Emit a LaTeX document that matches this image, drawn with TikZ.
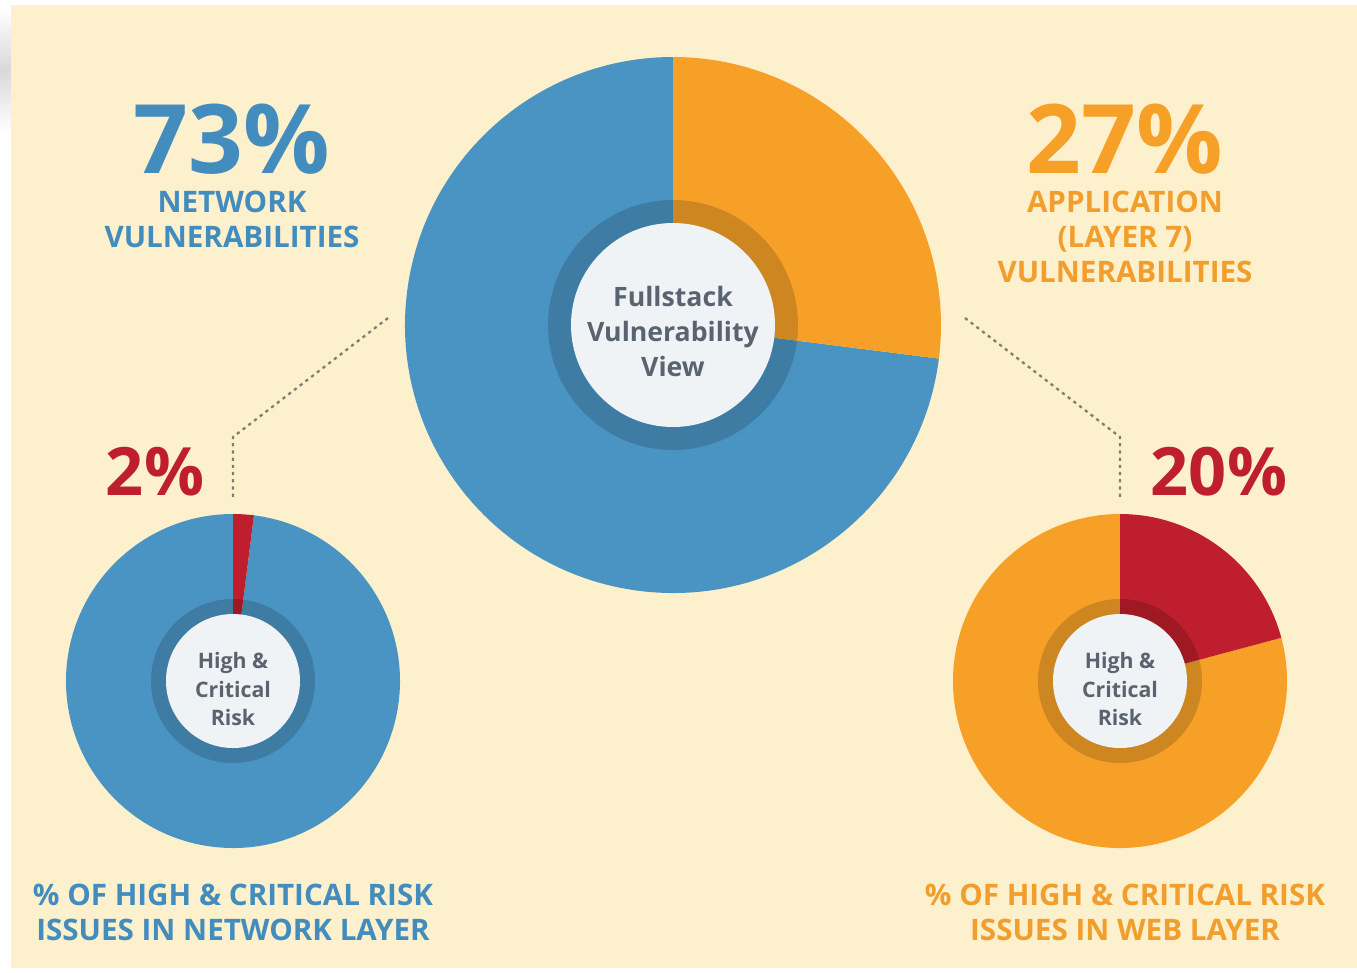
\documentclass[tikz,border=0pt]{standalone}
\usepackage{fontspec}
\setmainfont{Open Sans}

\definecolor{pageyellow}{RGB}{253,240,204}
\definecolor{pieblue}{RGB}{74,148,196}
\definecolor{pieorange}{RGB}{246,160,40}
\definecolor{piered}{RGB}{190,30,45}
\definecolor{hubwhite}{RGB}{240,243,246}
\definecolor{hubtext}{RGB}{90,100,112}
\definecolor{labelblue}{RGB}{66,140,190}
\definecolor{labelorange}{RGB}{242,158,45}
\definecolor{leadergray}{RGB}{130,125,110}

\tikzset{every picture/.style={line width=0.8pt}}

\begin{document}
\begin{tikzpicture}[x=0.75pt,y=0.75pt,yscale=-1, xscale=1,
  ringshade/.style={fill=black, fill opacity=0.16},
  hubtxt/.style={inner sep=0pt, text=hubtext, align=center},
  leader/.style={draw=leadergray, line width=1.7pt, dash pattern=on 2.4pt off 3pt},
  bignum/.style={anchor=north, inner sep=0pt, text depth=0pt, font=\bfseries\fontsize{72}{80}\selectfont},
  midnum/.style={anchor=north, inner sep=0pt, text depth=0pt, text=piered, font=\bfseries\fontsize{50}{56}\selectfont},
  caption/.style={anchor=north, inner sep=0pt, align=center, font=\bfseries\fontsize{22.2}{26.6}\selectfont}]
\useasboundingbox (0,0) rectangle (1357,972);

%Shape: page
\fill[white] (0,0) rectangle (1357,972);
\shade[top color=white, bottom color=white, middle color=gray!30] (0,8) rectangle (11,132);
\fill[pageyellow] (11,5) rectangle (1357,968);

\coordinate (big) at (673,325);
\coordinate (netpie) at (233,681);
\coordinate (webpie) at (1120,681);

%Shape: big pie 73 / 27
\fill[pieblue] (big) -- ++(7.2:268) arc[start angle=7.2, end angle=270, radius=268] -- cycle;
\fill[pieorange] (big) -- ++(-90:268) arc[start angle=-90, end angle=7.2, radius=268] -- cycle;
\fill[ringshade] (big) circle[radius=125];
\fill[hubwhite] (big) circle[radius=102];

%Shape: network pie 2 / 98
\fill[pieblue] (netpie) -- ++(-82.8:167) arc[start angle=-82.8, end angle=270, radius=167] -- cycle;
\fill[piered] (netpie) -- ++(-90:167) arc[start angle=-90, end angle=-82.8, radius=167] -- cycle;
\fill[ringshade] (netpie) circle[radius=82];
\fill[hubwhite] (netpie) circle[radius=67];

%Shape: web pie 20 / 80
\fill[pieorange] (webpie) -- ++(-15:167) arc[start angle=-15, end angle=270, radius=167] -- cycle;
\fill[piered] (webpie) -- ++(-90:167) arc[start angle=-90, end angle=-15, radius=167] -- cycle;
\fill[ringshade] (webpie) circle[radius=82];
\fill[hubwhite] (webpie) circle[radius=67];

% leaders
\coordinate (netstart) at (388,318);
\coordinate (netbend) at (233,437);
\coordinate (nettop) at (233,497);
\coordinate (webstart) at (965,318);
\coordinate (webbend) at (1120,437);
\coordinate (webtop) at (1120,497);
\draw[leader] (netstart) -- (netbend) -- (nettop);
\draw[leader] (webstart) -- (webbend) -- (webtop);

% Text Node
\node (fullstack) [hubtxt, font=\bfseries\fontsize{20}{26.25}\selectfont] at (673,331) {Fullstack\\Vulnerability\\View};
% Text Node
\node (nethub) [hubtxt, font=\bfseries\fontsize{16}{21.4}\selectfont] at (233,689) {High \&\\Critical\\Risk};
% Text Node
\node (webhub) [hubtxt, font=\bfseries\fontsize{16}{21.4}\selectfont] at (1120,689) {High \&\\Critical\\Risk};
% Text Node
\node (netpct) [bignum, text=labelblue] at (232,103) {73\%};
% Text Node
\node (netlabel) [caption, text=labelblue] at (232,190) {NETWORK\\VULNERABILITIES};
% Text Node
\node (apppct) [bignum, text=pieorange] at (1125,103) {27\%};
% Text Node
\node (applabel) [caption, text=labelorange] at (1125,190) {APPLICATION\\(LAYER 7)\\VULNERABILITIES};
% Text Node
\node (netrisk) [midnum] at (155,447) {2\%};
% Text Node
\node (webrisk) [midnum] at (1219,447) {20\%};
% Text Node
\node (netfoot) [caption, text=labelblue] at (233,883) {\% OF HIGH \& CRITICAL RISK\\ISSUES IN NETWORK LAYER};
% Text Node
\node (webfoot) [caption, text=labelorange] at (1125,883) {\% OF HIGH \& CRITICAL RISK\\ISSUES IN WEB LAYER};
\end{tikzpicture}
\end{document}
